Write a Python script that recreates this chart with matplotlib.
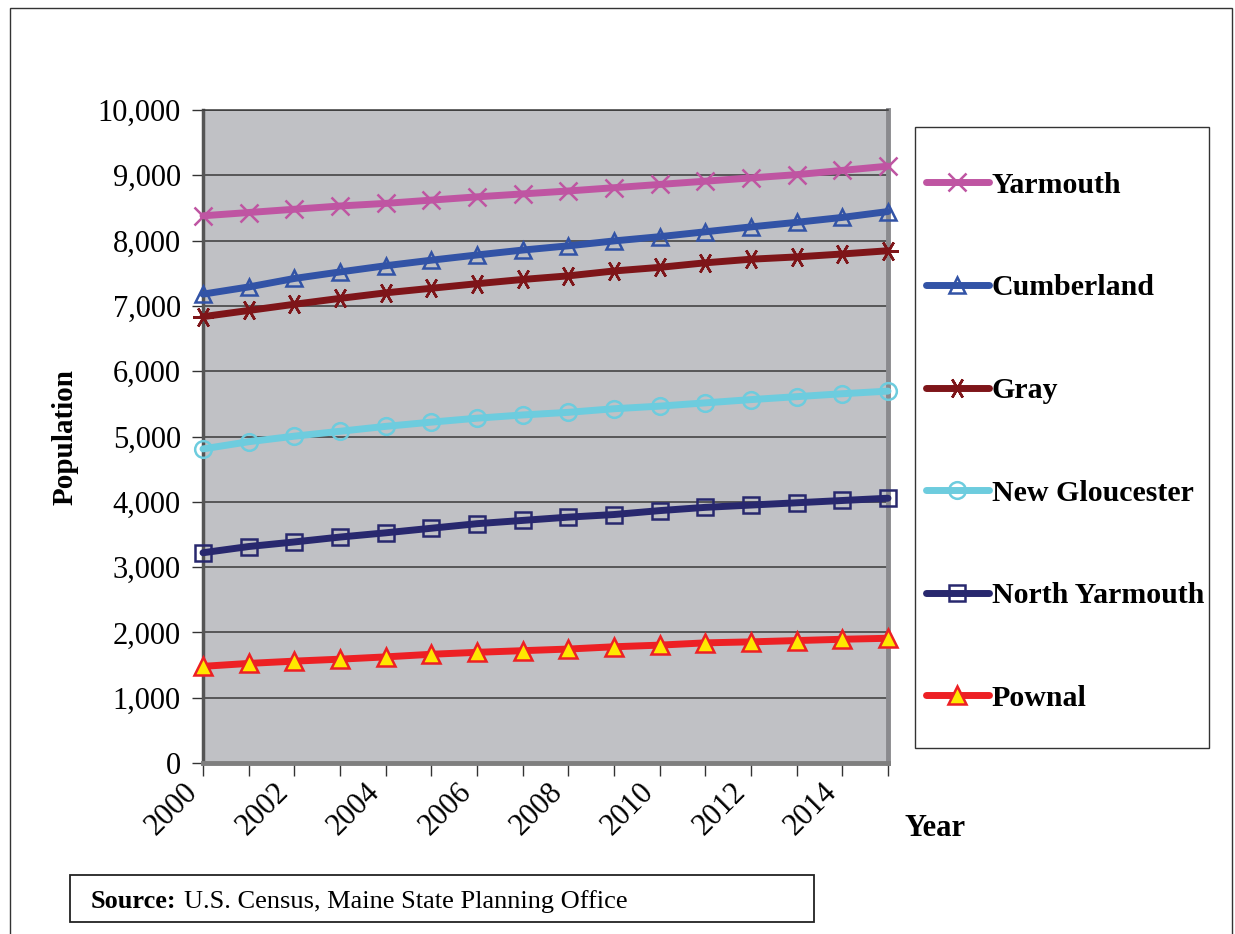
import numpy as np
import matplotlib
matplotlib.use("Agg")
import matplotlib.pyplot as plt
from matplotlib.patches import Rectangle
from matplotlib.transforms import ScaledTranslation

# data
years = list(range(2000, 2016))
yarmouth = [8380, 8430, 8480, 8530, 8570, 8620, 8670, 8715, 8760, 8810, 8860, 8910, 8960, 9010, 9075, 9140]
cumberland = [7180, 7290, 7420, 7520, 7615, 7700, 7780, 7855, 7920, 7995, 8060, 8135, 8210, 8280, 8355, 8445]
gray = [6835, 6930, 7025, 7115, 7200, 7270, 7340, 7405, 7460, 7535, 7590, 7660, 7715, 7750, 7795, 7845]
new_gloucester = [4810, 4920, 5005, 5080, 5155, 5220, 5280, 5330, 5370, 5425, 5465, 5515, 5565, 5610, 5655, 5695]
north_yarmouth = [3220, 3315, 3385, 3460, 3525, 3595, 3665, 3715, 3765, 3805, 3865, 3915, 3950, 3985, 4020, 4055]
pownal = [1480, 1525, 1560, 1590, 1625, 1665, 1695, 1720, 1745, 1780, 1805, 1840, 1855, 1875, 1895, 1910]

y_ticks = list(range(0, 10001, 1000))
x_labels = [str(y) if y % 2 == 0 else "" for y in years]

serif = ["Liberation Serif", "DejaVu Serif"]
plt.rcParams['font.family'] = serif

fig = plt.figure(figsize=(12.35, 9.34), dpi=100)
W, H = 1235, 934

# outer frame
fig.patches.append(Rectangle((10 / W, -0.05), 1222 / W, 1.05 - 8 / H, transform=fig.transFigure,
                             fill=False, edgecolor='#333333', lw=1.0))

ax = fig.add_axes([203 / W, 1 - 763 / H, 685 / W, 653 / H])
ax.set_facecolor('#c0c1c5')

series = [
    ("Yarmouth", yarmouth, dict(color='#bf55a2', marker='x', ms=13, mew=1.8, mfc='none', mec='#bf55a2')),
    ("Cumberland", cumberland, dict(color='#3253a6', marker='^', ms=11, mew=1.8, mfc='none', mec='#3253a6')),
    ("Gray", gray, dict(color='#7e1519', marker=(6, 2, 90), ms=15, mew=1.8, mec='#7e1519')),
    ("New Gloucester", new_gloucester, dict(color='#6dccde', marker='o', ms=12, mew=1.8, mfc='none', mec='#6dccde')),
    ("North Yarmouth", north_yarmouth, dict(color='#28286e', marker='s', ms=11, mew=1.8, mfc='none', mec='#28286e')),
    ("Pownal", pownal, dict(color='#ed2024', marker='^', ms=13, mew=1.8, mfc='#ffe800', mec='#ed2024')),
]

handles = []
for name, vals, st in series:
    h, = ax.plot(years, vals, lw=5, solid_capstyle='round', label=name, zorder=3, **st)
    handles.append(h)

ax.set_xlim(2000, 2015)
ax.set_ylim(0, 10000)
ax.set_yticks(y_ticks)
ax.set_yticklabels([f"{v:,}" for v in y_ticks], fontsize=22)
ax.set_xticks(years)
ax.set_xticklabels(x_labels, fontsize=22, rotation=45, ha='right', va='center', rotation_mode='anchor')
ax.tick_params(axis='y', length=8, width=1, color='#333333', pad=8)
ax.tick_params(axis='x', length=9, width=1, color='#333333', pad=9)
shift = ScaledTranslation(-10 / 100, 0, fig.dpi_scale_trans)
for lab in ax.get_xticklabels():
    lab.set_transform(lab.get_transform() + shift)
ax.grid(axis='y', color='#3a3a3a', lw=1.1, zorder=1)
ax.set_axisbelow(True)

ax.spines['left'].set_color('#555555')
ax.spines['left'].set_linewidth(2.5)
ax.spines['bottom'].set_color('#7f7f7f')
ax.spines['bottom'].set_linewidth(3.5)
ax.spines['right'].set_color('#8a8a8e')
ax.spines['right'].set_linewidth(3.5)
ax.spines['top'].set_color('#3a3a3a')
ax.spines['top'].set_linewidth(1.1)
for ln in handles:
    ln.set_clip_on(False)

fig.text(65 / W, 1 - 437 / H, "Population", rotation=90, fontsize=21, fontweight='bold',
         ha='center', va='center')
fig.text(935 / W, 1 - 828 / H, "Year", fontsize=22, fontweight='bold', ha='center', va='center')

# legend box
fig.patches.append(Rectangle((915 / W, 1 - 748 / H), 294 / W, 621 / H, transform=fig.transFigure,
                             fill=False, edgecolor='#333333', lw=1.0))
leg = fig.legend(handles=handles, loc='upper left', bbox_to_anchor=(914 / W, 1 - 160 / H),
                 frameon=False, prop={'family': serif, 'weight': 'bold', 'size': 21.5},
                 handlelength=2.1, handletextpad=0.1, labelspacing=2.53, borderaxespad=0)

# source box
fig.patches.append(Rectangle((70 / W, 1 - 922 / H), 744 / W, 47 / H, transform=fig.transFigure,
                             fill=False, edgecolor='#222222', lw=1.3))
t1 = fig.text(91 / W, 1 - 902 / H, "Source:", fontsize=19, fontweight='bold', ha='left', va='center')
fig.canvas.draw()
bb = t1.get_window_extent()
fig.text(bb.x1 / W + 7 / W, 1 - 902 / H, "U.S. Census, Maine State Planning Office", fontsize=19,
         ha='left', va='center')

fig.savefig("out.png", dpi=100)
